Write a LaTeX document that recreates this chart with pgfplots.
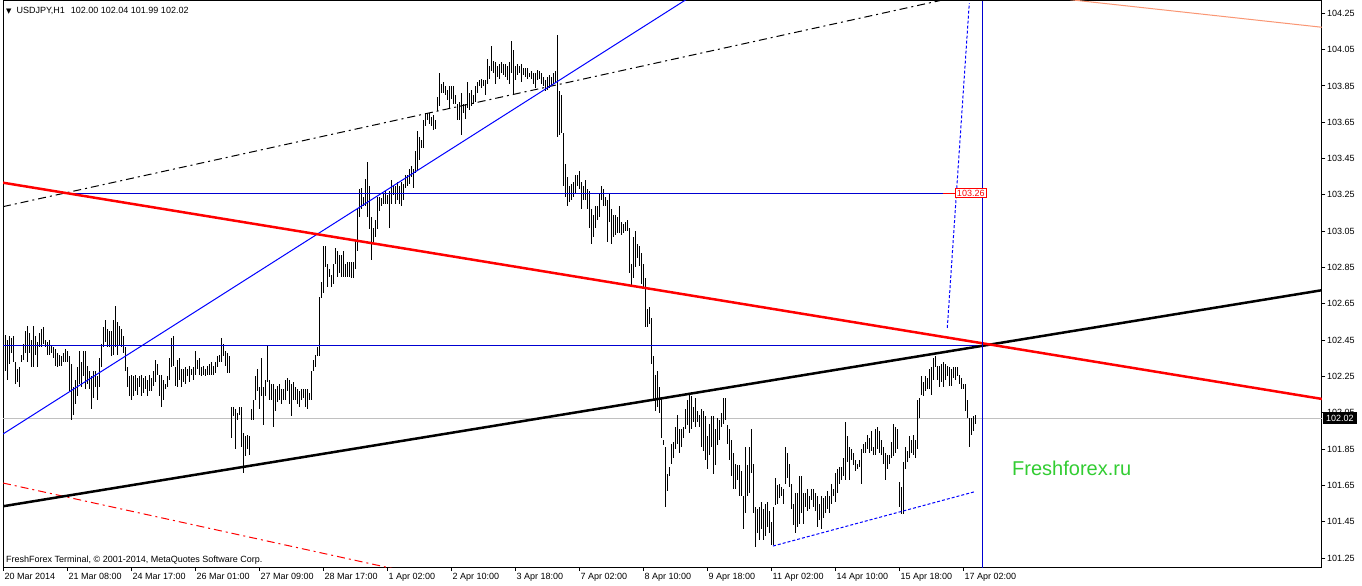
\documentclass[border=0pt]{standalone}
\usepackage{fontspec}
\setmainfont{Liberation Sans}
\newfontfamily\dejavu{DejaVu Sans}
\usepackage{pgfplots}
\usepackage{pgfplotstable}
\pgfplotsset{compat=1.18}
\definecolor{hblue}{RGB}{0,0,210}
\definecolor{tblue}{RGB}{0,0,255}
\definecolor{salmonline}{RGB}{250,150,115}
\definecolor{ffgreen}{RGB}{50,205,50}
\definecolor{bidgray}{RGB}{192,192,192}
\newcommand\fs{\fontsize{9}{10.8}\selectfont}

% USDJPY H1 bars: low high, one row per hour starting 20 Mar 2014 00:00
\pgfplotstableread{
lo hi
102.35 102.41
102.28 102.48
102.23 102.45
102.32 102.47
102.38 102.46
102.33 102.47
102.21 102.33
102.22 102.29
102.19 102.30
102.33 102.37
102.34 102.43
102.38 102.50
102.33 102.53
102.38 102.49
102.30 102.45
102.30 102.53
102.37 102.47
102.30 102.44
102.41 102.49
102.41 102.51
102.43 102.52
102.41 102.45
102.37 102.44
102.37 102.45
102.38 102.42
102.35 102.41
102.31 102.40
102.30 102.38
102.31 102.37
102.31 102.36
102.33 102.38
102.33 102.40
102.33 102.39
102.17 102.36
102.01 102.32
102.04 102.19
102.10 102.23
102.14 102.30
102.21 102.39
102.19 102.33
102.25 102.39
102.18 102.39
102.21 102.31
102.18 102.28
102.07 102.25
102.13 102.28
102.19 102.28
102.12 102.25
102.19 102.35
102.30 102.43
102.41 102.52
102.44 102.56
102.41 102.51
102.41 102.50
102.36 102.50
102.37 102.56
102.41 102.64
102.37 102.55
102.42 102.53
102.41 102.51
102.38 102.47
102.28 102.41
102.19 102.30
102.14 102.25
102.12 102.26
102.14 102.25
102.17 102.26
102.15 102.24
102.19 102.25
102.14 102.26
102.16 102.24
102.18 102.25
102.14 102.23
102.17 102.26
102.17 102.24
102.20 102.28
102.22 102.34
102.26 102.32
102.14 102.26
102.08 102.26
102.12 102.23
102.18 102.21
102.19 102.25
102.23 102.35
102.30 102.46
102.31 102.47
102.20 102.30
102.19 102.34
102.23 102.35
102.19 102.29
102.22 102.29
102.21 102.30
102.25 102.29
102.22 102.31
102.26 102.29
102.23 102.30
102.26 102.39
102.29 102.34
102.26 102.35
102.25 102.30
102.26 102.31
102.25 102.29
102.26 102.31
102.26 102.32
102.26 102.33
102.26 102.31
102.27 102.33
102.30 102.36
102.33 102.37
102.33 102.46
102.36 102.43
102.31 102.39
102.27 102.38
102.27 102.36
101.91 102.08
102.03 102.08
101.85 102.07
102.01 102.05
102.04 102.08
101.86 102.08
101.72 101.94
101.81 101.92
101.85 101.93
101.82 101.92
102.01 102.07
102.01 102.12
102.12 102.25
102.17 102.29
102.07 102.19
102.14 102.35
101.98 102.19
102.14 102.23
102.22 102.42
102.12 102.23
102.12 102.21
101.97 102.21
102.06 102.18
102.11 102.20
102.12 102.21
102.10 102.18
102.12 102.18
102.12 102.23
102.17 102.24
102.10 102.23
102.03 102.21
102.12 102.22
102.12 102.19
102.10 102.18
102.08 102.17
102.12 102.18
102.13 102.18
102.08 102.18
102.07 102.18
102.12 102.16
102.12 102.28
102.28 102.34
102.30 102.37
102.36 102.41
102.36 102.69
102.68 102.77
102.71 102.97
102.85 102.97
102.74 102.87
102.80 102.84
102.74 102.81
102.76 102.87
102.87 102.96
102.80 102.94
102.82 102.92
102.80 102.92
102.80 102.94
102.80 102.87
102.80 102.88
102.80 102.88
102.79 102.88
102.79 102.88
102.84 103.00
102.94 103.17
103.13 103.28
103.17 103.29
103.19 103.24
103.19 103.34
103.13 103.43
103.06 103.30
102.89 103.13
102.98 103.07
103.02 103.11
103.06 103.24
103.16 103.24
103.19 103.23
103.20 103.26
103.20 103.27
103.20 103.25
103.07 103.27
103.20 103.33
103.25 103.30
103.20 103.30
103.22 103.32
103.20 103.30
103.19 103.32
103.22 103.31
103.29 103.36
103.30 103.36
103.31 103.39
103.35 103.41
103.29 103.39
103.37 103.49
103.38 103.60
103.44 103.57
103.51 103.55
103.51 103.66
103.63 103.70
103.66 103.70
103.64 103.70
103.63 103.68
103.61 103.69
103.61 103.66
103.71 103.79
103.74 103.92
103.81 103.86
103.81 103.87
103.80 103.85
103.77 103.83
103.73 103.85
103.78 103.85
103.75 103.85
103.75 103.80
103.66 103.75
103.66 103.76
103.58 103.81
103.70 103.75
103.67 103.75
103.73 103.87
103.72 103.81
103.74 103.83
103.75 103.80
103.76 103.85
103.81 103.87
103.85 103.88
103.84 103.89
103.85 103.88
103.80 103.88
103.86 104.00
103.89 103.96
103.93 104.07
103.92 103.99
103.86 103.98
103.90 103.96
103.89 103.97
103.92 103.98
103.91 103.97
103.90 103.97
103.88 103.96
103.86 103.98
103.92 104.10
103.80 104.05
103.88 103.96
103.91 103.97
103.92 103.96
103.87 103.97
103.91 103.95
103.90 103.95
103.89 103.95
103.90 103.92
103.89 103.93
103.86 103.92
103.84 103.92
103.88 103.94
103.89 103.93
103.86 103.92
103.85 103.90
103.82 103.88
103.83 103.90
103.84 103.91
103.85 103.90
103.86 103.92
103.87 103.93
103.57 104.13
103.58 103.82
103.59 103.80
103.30 103.59
103.24 103.42
103.19 103.35
103.21 103.30
103.22 103.31
103.24 103.32
103.26 103.36
103.30 103.36
103.28 103.38
103.17 103.32
103.22 103.30
103.22 103.33
103.17 103.28
103.07 103.27
102.98 103.17
103.02 103.14
103.07 103.19
103.11 103.19
103.13 103.26
103.22 103.30
103.19 103.28
103.19 103.24
102.99 103.22
103.10 103.26
102.98 103.17
103.02 103.14
103.03 103.14
103.04 103.13
103.04 103.19
103.03 103.10
103.04 103.09
103.05 103.10
103.05 103.11
102.82 103.07
102.74 102.87
102.79 103.02
102.85 103.05
102.90 102.98
102.86 102.97
102.76 102.93
102.73 102.87
102.52 102.79
102.52 102.62
102.54 102.63
102.32 102.57
102.12 102.36
102.06 102.26
102.08 102.28
102.05 102.19
101.91 102.13
101.87 101.90
101.53 101.86
101.62 101.71
101.70 101.75
101.77 101.88
101.80 101.89
101.85 101.97
101.88 102.04
101.83 101.96
101.86 101.96
101.91 101.97
101.96 102.07
101.98 102.12
101.94 102.15
101.96 102.14
102.00 102.08
101.97 102.13
102.00 102.06
101.97 102.04
101.86 102.07
101.84 102.06
101.79 102.03
101.74 101.92
101.82 101.99
101.86 102.03
101.71 102.03
101.76 101.96
101.87 102.02
101.90 102.01
101.97 102.05
101.99 102.13
102.01 102.13
101.88 101.98
101.79 101.96
101.70 101.90
101.63 101.83
101.63 101.77
101.68 101.76
101.59 101.76
101.59 101.73
101.41 101.59
101.50 101.86
101.59 101.76
101.61 101.86
101.72 101.96
101.50 101.77
101.31 101.53
101.39 101.52
101.35 101.53
101.41 101.56
101.35 101.52
101.37 101.55
101.42 101.56
101.39 101.51
101.32 101.45
101.32 101.53
101.54 101.69
101.55 101.65
101.58 101.66
101.59 101.64
101.55 101.63
101.66 101.86
101.69 101.83
101.64 101.77
101.52 101.66
101.43 101.55
101.39 101.61
101.42 101.61
101.44 101.70
101.50 101.70
101.44 101.61
101.53 101.61
101.51 101.63
101.52 101.59
101.57 101.63
101.53 101.63
101.51 101.61
101.42 101.59
101.46 101.55
101.41 101.59
101.47 101.58
101.50 101.59
101.52 101.62
101.50 101.59
101.55 101.66
101.59 101.63
101.56 101.72
101.61 101.74
101.66 101.75
101.68 101.75
101.70 101.80
101.68 102.00
101.78 101.92
101.68 101.86
101.79 101.85
101.76 101.83
101.73 101.79
101.74 101.77
101.75 101.79
101.66 101.85
101.83 101.88
101.83 101.89
101.85 101.93
101.83 101.91
101.84 101.95
101.82 101.86
101.82 101.96
101.85 101.97
101.83 101.95
101.82 101.90
101.77 101.86
101.68 101.83
101.74 101.82
101.77 101.82
101.80 101.89
101.81 101.99
101.83 101.97
101.85 101.96
101.53 101.67
101.49 101.64
101.49 101.78
101.74 101.86
101.78 101.84
101.80 101.92
101.83 101.90
101.82 101.93
101.80 101.90
101.85 102.12
102.02 102.13
102.15 102.25
102.14 102.22
102.17 102.25
102.18 102.24
102.18 102.29
102.15 102.30
102.23 102.35
102.30 102.36
102.23 102.31
102.19 102.31
102.22 102.32
102.19 102.33
102.23 102.32
102.25 102.31
102.20 102.30
102.20 102.29
102.24 102.30
102.23 102.30
102.25 102.30
102.21 102.26
102.18 102.24
102.18 102.21
102.06 102.21
102.02 102.12
101.86 102.02
101.93 102.02
101.95 102.03
101.99 102.04
}\bars

\begin{document}
\begin{tikzpicture}
\path[use as bounding box, fill=white] (0pt,0pt) rectangle (1362pt,-586pt);
\begin{axis}[
  at={(3pt,-1pt)}, anchor=north west,
  scale only axis, width=1319pt, height=566.7pt,
  xmin=-0.25, xmax=659.25, ymin=101.1966, ymax=104.3177,
  axis line style={line width=1pt, black},
  xtick={0,32,64,96,128,160,192,224,256,288,320,352,384,416,448,480},
  xticklabels={20 Mar 2014,21 Mar 08:00,24 Mar 17:00,26 Mar 01:00,27 Mar 09:00,28 Mar 17:00,1 Apr 02:00,2 Apr 10:00,3 Apr 18:00,7 Apr 02:00,8 Apr 10:00,9 Apr 18:00,11 Apr 02:00,14 Apr 10:00,15 Apr 18:00,17 Apr 02:00},
  ytick={101.25,101.45,101.65,101.85,102.05,102.25,102.45,102.65,102.85,103.05,103.25,103.45,103.65,103.85,104.05,104.25},
  yticklabels={101.25,101.45,101.65,101.85,102.05,102.25,102.45,102.65,102.85,103.05,103.25,103.45,103.65,103.85,104.05,104.25},
  xtick pos=lower, ytick pos=upper, yticklabel pos=upper,
  tick align=outside, major tick length=3.5pt,
  tick style={black, line width=1pt},
  ticklabel style={font=\fs, text=black},
  xticklabel style={anchor=north west, inner sep=1pt, yshift=-1pt},
  yticklabel style={anchor=west, inner sep=1.5pt},
]
% bid line
\addplot[bidgray, line width=1pt, forget plot] coordinates {(-0.25,102.02) (659.25,102.02)};
% price bars (high-low)
\addplot[draw=none, mark=none, forget plot,
  error bars/.cd, y dir=both, y explicit, error mark=none,
  error bar style={draw=black, line width=1pt}]
  table[x expr=\coordindex, y expr=0.5*(\thisrow{hi}+\thisrow{lo}), y error expr=0.5*(\thisrow{hi}-\thisrow{lo})] {\bars};
% objects
\addplot[black, line width=1pt, dash pattern=on 8pt off 4pt on 2pt off 4pt] coordinates {(-0.25,103.185) (468.25,104.32)};
\addplot[red, line width=1pt, dash pattern=on 8pt off 4pt on 2pt off 4pt] coordinates {(-0.25,101.663) (198.25,101.183)};
\addplot[salmonline, line width=1pt] coordinates {(533.25,104.325) (659.25,104.173)};
\addplot[tblue, line width=1pt] coordinates {(-0.25,101.933) (348.25,104.374)};
\addplot[hblue, line width=1pt] coordinates {(35.75,103.26) (469.75,103.26)};
\addplot[red, line width=1pt] coordinates {(469.75,103.26) (475.75,103.26)};
\addplot[hblue, line width=1pt] coordinates {(-0.25,102.423) (489.75,102.423)};
\addplot[tblue, line width=1pt, dash pattern=on 3pt off 2pt] coordinates {(384.75,101.316) (485.25,101.614)};
\addplot[tblue, line width=1pt, dash pattern=on 3pt off 2pt] coordinates {(471.9,102.517) (482.9,104.306)};
\addplot[black, line width=2.5pt] coordinates {(-0.25,101.535) (659.25,102.725)};
\addplot[red, line width=2.5pt] coordinates {(-0.25,103.317) (659.25,102.126)};
\addplot[hblue, line width=1pt] coordinates {(489.75,101.1966) (489.75,104.3177)};
\node[draw=red, line width=1pt, fill=white, text=red, font=\fs, inner xsep=1.5pt, inner ysep=1.5pt, anchor=west] at (axis cs:475.75,103.26) {103.26};
\end{axis}
\node[anchor=west, inner sep=0pt, font=\fs] at (6pt,-10.5pt) {{\dejavu\fontsize{7}{8}\selectfont ▼}\hspace{5pt}USDJPY,H1\hspace{6pt}102.00 102.04 101.99 102.02};
\node[anchor=west, inner sep=0pt, font=\fs] at (6pt,-560pt) {FreshForex Terminal, © 2001-2014, MetaQuotes Software Corp.};
\node[anchor=base west, inner sep=0pt, text=ffgreen, font=\fontsize{20}{24}\selectfont] at (1012pt,-475pt) {Freshforex.ru};
\node[anchor=west, fill=black, text=white, font=\fs, inner xsep=3pt, inner ysep=2.5pt] at (1323pt,-418pt) {102.02};
\end{tikzpicture}
\end{document}
